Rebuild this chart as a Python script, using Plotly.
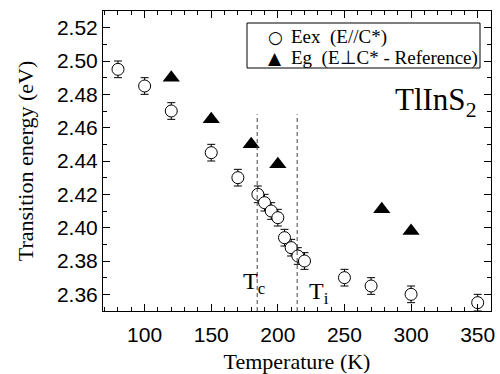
import plotly.graph_objects as go

# ---- data ----
temp_ex = [80, 100, 120, 150, 170, 185, 190, 195, 200, 205, 210, 215, 220, 250, 270, 300, 350]
energy_ex = [2.495, 2.485, 2.470, 2.445, 2.430, 2.420, 2.415, 2.410, 2.406, 2.394, 2.388,
             2.383, 2.380, 2.370, 2.365, 2.360, 2.355]
err_ex = [0.005] * len(temp_ex)

temp_g = [120, 150, 180, 200, 278, 300]
energy_g = [2.490, 2.465, 2.450, 2.438, 2.411, 2.398]

t_c = 184.5
t_i = 214.5
line_top = 2.468

x_ticks = [100, 150, 200, 250, 300, 350]
y_ticks = [2.36, 2.38, 2.40, 2.42, 2.44, 2.46, 2.48, 2.50, 2.52]

legend_labels = ["Eex\u00a0\u00a0(E//C*)", "Eg\u00a0\u00a0(E\u22a5C* - Reference)"]
legend_symbols = ["\u25cb", "\u25b2"]

SERIF = "Liberation Serif"
SANS = "Liberation Sans"

# plot area in pixels
L, R, T, B = 103, 9, 11, 63
W, H = 500, 374
PW, PH = W - L - R, H - T - B


def px(xp):
    return (xp - L) / PW


def py(yp):
    return (H - B - yp) / PH


fig = go.Figure()

fig.add_trace(go.Scatter(
    x=temp_ex, y=energy_ex, mode="markers",
    name=legend_labels[0],
    marker=dict(symbol="circle", size=12, color="white",
                line=dict(color="black", width=1)),
    error_y=dict(type="data", array=err_ex, visible=True,
                 color="black", thickness=1, width=4),
))
fig.add_trace(go.Scatter(
    x=temp_g, y=energy_g, mode="markers",
    name=legend_labels[1],
    marker=dict(symbol="triangle-up", size=15, color="black",
                line=dict(color="black", width=0)),
))

for tv in (t_c, t_i):
    fig.add_shape(type="line", xref="x", yref="y", x0=tv, x1=tv, y0=2.35, y1=line_top,
                  line=dict(color="#444444", width=1, dash="4px,3px"))

# legend box (drawn manually to match compact row spacing)
fig.add_shape(type="rect", xref="paper", yref="paper",
              x0=px(247), x1=px(480), y0=py(68), y1=py(23),
              line=dict(color="black", width=1), fillcolor="white", layer="above")
row_y = [37, 58]
sym_sizes = [17, 17]
for lbl, sym, ry, ss in zip(legend_labels, legend_symbols, row_y, sym_sizes):
    fig.add_annotation(text=sym, x=px(275), y=py(ry), xref="paper", yref="paper",
                       xanchor="center", yanchor="middle", showarrow=False,
                       font=dict(family="DejaVu Sans", size=ss, color="black"))
    fig.add_annotation(text=lbl, x=px(289), y=py(ry), xref="paper", yref="paper",
                       xanchor="left", yanchor="middle", showarrow=False,
                       font=dict(family=SERIF, size=19, color="black"))

annos = [
    dict(text="T<sub>c</sub>", x=px(241), y=py(283), size=24),
    dict(text="T<sub>i</sub>", x=px(307), y=py(293), size=24),
    dict(text="TlInS<sub>2</sub>", x=px(393), y=py(102), size=31),
]
for a in annos:
    fig.add_annotation(text=a["text"], x=a["x"], y=a["y"], xref="paper", yref="paper",
                       xanchor="left", yanchor="middle", showarrow=False,
                       font=dict(family=SERIF, size=a["size"], color="black"))

axis_common = dict(
    showline=True, linecolor="black", linewidth=1, mirror="allticks",
    ticks="inside", ticklen=7, tickwidth=1, tickcolor="black",
    showgrid=False, zeroline=False, automargin=False,
    tickfont=dict(family=SANS, size=21, color="black"),
)

fig.update_xaxes(
    range=[68.75, 360], tickvals=x_ticks, ticktext=[str(v) for v in x_ticks],
    minor=dict(dtick=10, tick0=0, ticks="inside", ticklen=4, tickcolor="black", showgrid=False),
    title=dict(text="Temperature (K)", font=dict(family=SERIF, size=22, color="black"), standoff=10),
    ticklabelstandoff=5,
    **axis_common,
)
fig.update_yaxes(
    range=[2.35, 2.53], tickvals=y_ticks, ticktext=[f"{v:.2f}" for v in y_ticks],
    minor=dict(dtick=0.01, tick0=2.35, ticks="inside", ticklen=4, tickcolor="black", showgrid=False),
    title=dict(text="Transition energy (eV)", font=dict(family=SERIF, size=22, color="black"), standoff=17),
    **axis_common,
)

fig.update_layout(
    width=W, height=H,
    margin=dict(l=L, r=R, t=T, b=B),
    paper_bgcolor="white", plot_bgcolor="white",
    font=dict(family=SERIF, color="black"),
    showlegend=False,
)

fig.write_html("out.html")
